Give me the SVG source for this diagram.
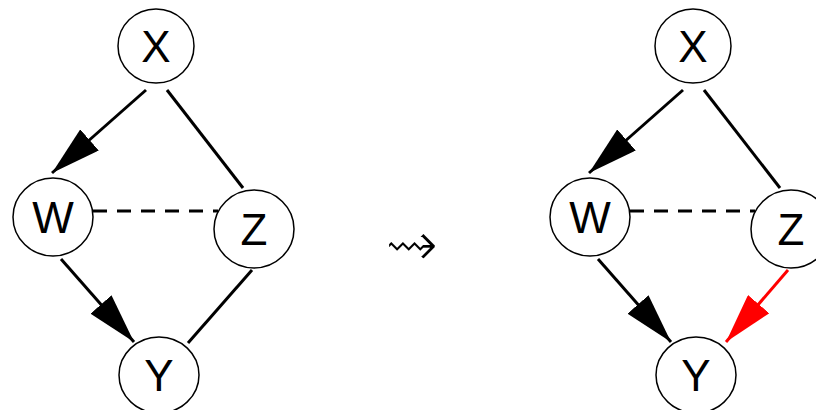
<svg xmlns="http://www.w3.org/2000/svg" width="816" height="410" viewBox="0 0 816 410">
<defs>
<style>
.node{fill:#fff;stroke:#000;stroke-width:1.5}
.lbl{font-family:"Liberation Sans",Arial,sans-serif;font-size:44px;text-anchor:middle;fill:#000}
.edge{stroke:#000;stroke-width:3;fill:none}
.dash{stroke-dasharray:14,10}
.red{stroke:#f00}
.sym{font-family:"DejaVu Sans",sans-serif;font-size:66px;fill:#000;stroke:#fff;stroke-width:2.6}
</style>
<marker id="ah" markerUnits="userSpaceOnUse" markerWidth="52" markerHeight="28" refX="50" refY="14" orient="auto" viewBox="0 0 52 28">
<path d="M0,0 L50,14 L0,28 Z" fill="#000"/>
</marker>
<marker id="ahr" markerUnits="userSpaceOnUse" markerWidth="52" markerHeight="28" refX="50" refY="14" orient="auto" viewBox="0 0 52 28">
<path d="M0,0 L50,14 L0,28 Z" fill="#f00"/>
</marker>
</defs>
<g id="connectors">
<line class="edge" x1="146" y1="90" x2="52" y2="173" marker-end="url(#ah)"/>
<line class="edge" x1="167" y1="90" x2="243" y2="188"/>
<line class="edge dash" x1="93" y1="211" x2="218" y2="211"/>
<line class="edge" x1="61" y1="259" x2="134" y2="342" marker-end="url(#ah)"/>
<line class="edge" x1="252" y1="270" x2="188" y2="343"/>
<line class="edge" x1="683" y1="90" x2="589" y2="173" marker-end="url(#ah)"/>
<line class="edge" x1="704" y1="90" x2="780" y2="188"/>
<line class="edge dash" x1="630" y1="211" x2="755" y2="211"/>
<line class="edge" x1="598" y1="259" x2="671" y2="342" marker-end="url(#ah)"/>
<line class="edge red" x1="788" y1="270" x2="726" y2="342" marker-end="url(#ahr)"/>
</g>
<g id="X1"><ellipse class="node" cx="156" cy="46" rx="38" ry="37"/><text class="lbl" x="156" y="62">X</text></g>
<g id="W1"><ellipse class="node" cx="53" cy="217" rx="40" ry="39"/><text class="lbl" x="53" y="233">W</text></g>
<g id="Z1"><ellipse class="node" cx="254" cy="229" rx="40" ry="39"/><text class="lbl" x="254" y="245">Z</text></g>
<g id="Y1"><ellipse class="node" cx="159" cy="375" rx="40" ry="38"/><text class="lbl" x="159" y="391">Y</text></g>
<g id="X2"><ellipse class="node" cx="693" cy="46" rx="38" ry="37"/><text class="lbl" x="693" y="62">X</text></g>
<g id="W2"><ellipse class="node" cx="590" cy="217" rx="40" ry="39"/><text class="lbl" x="590" y="233">W</text></g>
<g id="Z2"><ellipse class="node" cx="791" cy="229" rx="40" ry="39"/><text class="lbl" x="791" y="245">Z</text></g>
<g id="Y2"><ellipse class="node" cx="696" cy="375" rx="40" ry="38"/><text class="lbl" x="696" y="391">Y</text></g>
<g id="sym"><text class="sym" x="384" y="267">⇝</text></g>
</svg>
